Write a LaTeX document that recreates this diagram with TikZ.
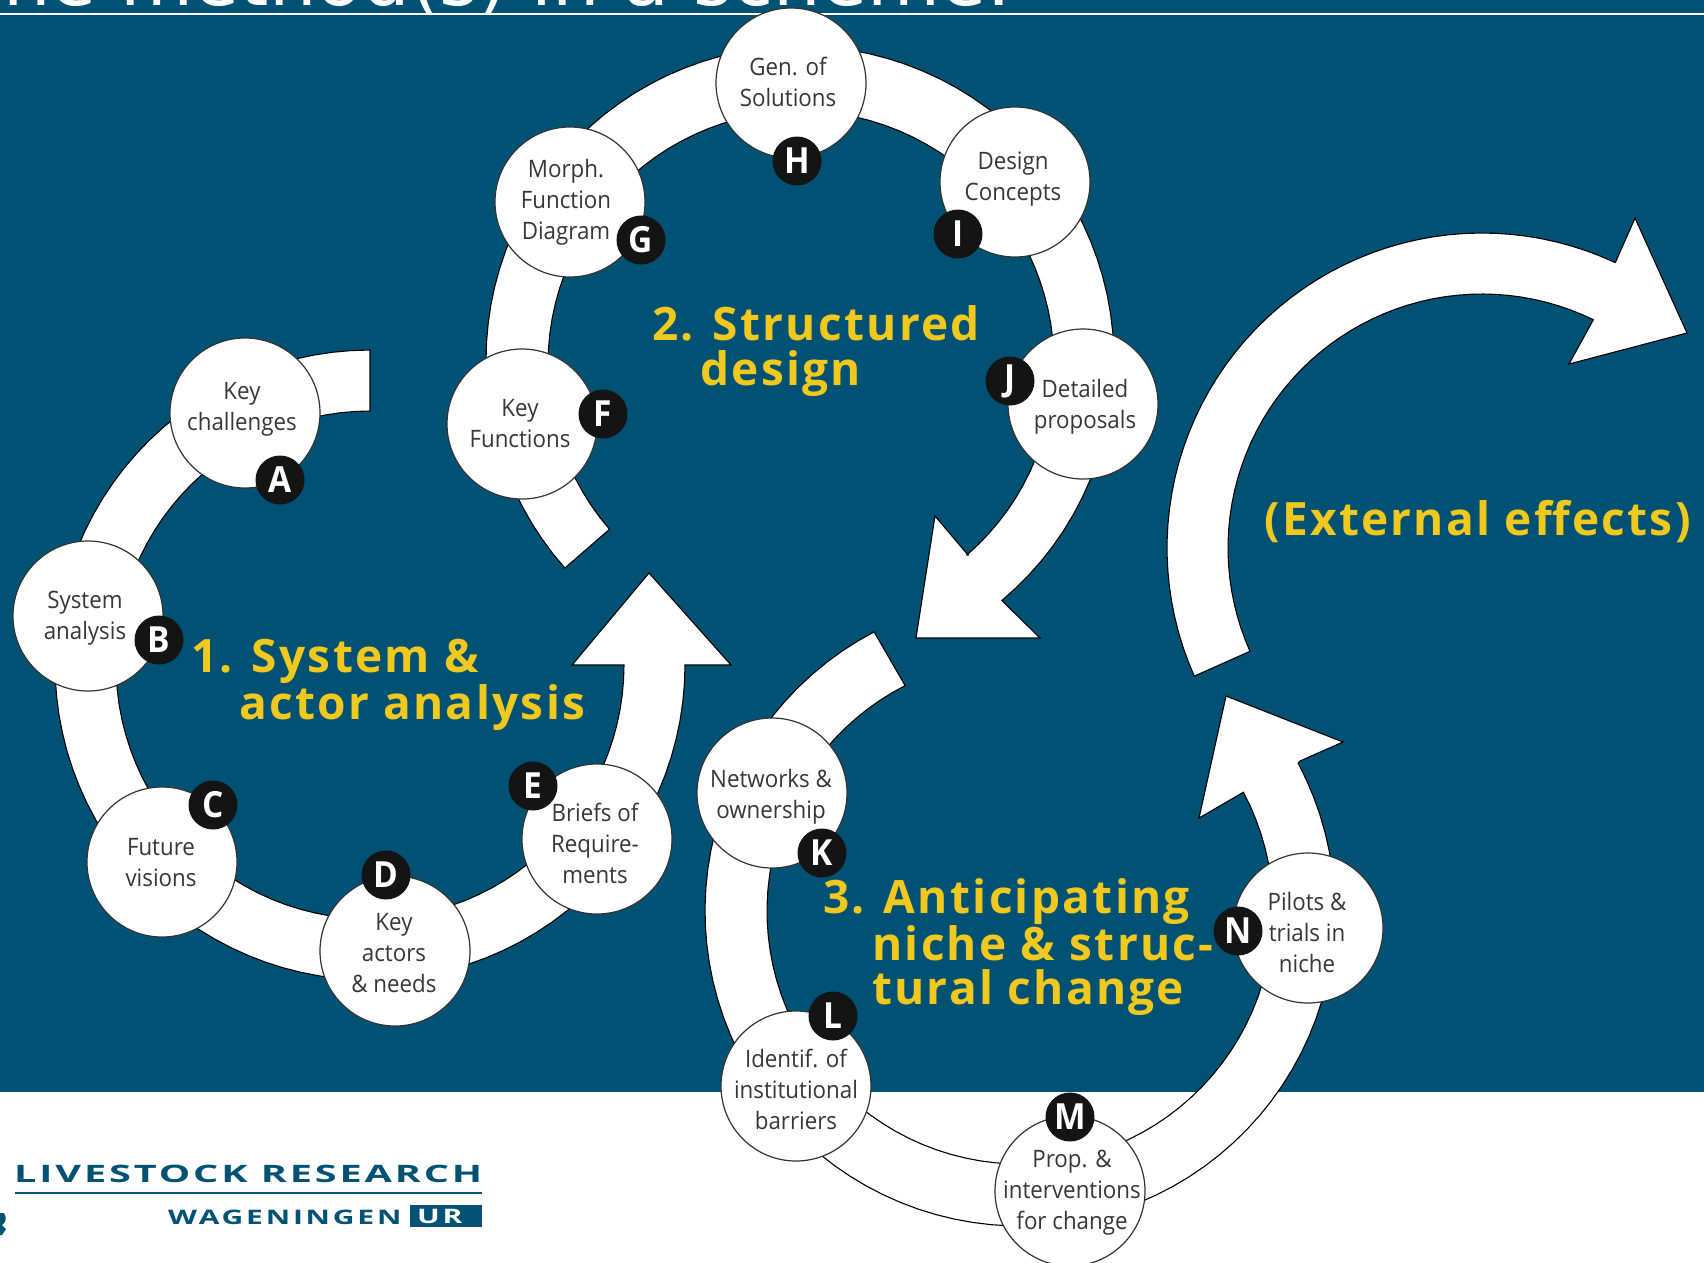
\documentclass[tikz,border=0pt]{standalone}
\usepackage{fontspec}
\setmainfont[FakeStretch=0.93]{Open Sans}
\newfontfamily\titlefont{DejaVu Sans}
\newfontfamily\logofont[FakeStretch=1.65,LetterSpace=12]{Open Sans}
\newfontfamily\logofontb[FakeStretch=1.5,LetterSpace=14]{Open Sans}
\newfontfamily\headfont[LetterSpace=5]{Open Sans}
\definecolor{wurblue}{RGB}{0,82,117}
\definecolor{headyellow}{RGB}{240,200,30}
\definecolor{steptext}{RGB}{55,55,55}
\tikzset{
  band/.style={draw=black,line width=1.1pt,fill=white,line join=miter},
  stepnode/.style={circle,draw=black!80,line width=1.2pt,fill=white,minimum size=150pt,inner sep=0pt},
  steplabel/.style={align=center,text=steptext,inner sep=0pt,font=\fontsize{24}{31}\selectfont},
  badge/.style={circle,fill=black!92,text=white,minimum size=49pt,inner sep=0pt,
    font=\fontsize{36}{36}\selectfont\bfseries},
  heading/.style={anchor=west,align=left,text=headyellow,inner sep=0pt,
    font=\headfont\bfseries\fontsize{46}{44.3}\selectfont},
}
\begin{document}
\begin{tikzpicture}[x=1pt,y=-1pt]
\useasboundingbox (0,0) rectangle (1704,1262);
\fill[white] (0,0) rectangle (1704,1262);
\fill[wurblue] (0,0) rectangle (1704,1092);
% title line
\node[anchor=base west,inner sep=0pt,text=white,font=\titlefont\fontsize{75}{75}\selectfont] (title) at (-43,5.5) {The method(s) in a scheme:};
\fill[white] (0,12.5) rectangle (1704,15);
% loop 1
\draw[band] plot[domain=-90:-360,samples=80] ({370+315*cos(\x)},{665+315*sin(\x)})
  -- (731,665) -- (649,573) -- (572,665) -- (622,665)
  -- plot[domain=-360:-90,samples=80] ({370+254*cos(\x)},{665+254*sin(\x)})
  -- cycle;
% loop 2
\draw[band] plot[domain=138.5:410,samples=80] ({800+314*cos(\x)},{360+314*sin(\x)})
  -- (1040,638) -- (916,638) -- (935,516) -- (968,555)
  -- plot[domain=409:139.2,samples=80] ({801+253*cos(\x)},{364+253*sin(\x)})
  -- cycle;
% loop 3
\draw[band] plot[domain=243:-28,samples=80] ({1020+253*cos(\x)},{911+253*sin(\x)})
  -- (1199,818) -- (1226,696) -- (1343,742) -- (1300,761)
  -- plot[domain=-28:242.4,samples=80] ({1020+315*cos(\x)},{911+315*sin(\x)})
  -- cycle;
% external effects
\draw[band] plot[domain=156:296,samples=50] ({1482+254*cos(\x)},{548+254*sin(\x)})
  -- (1569,364) -- (1687,333) -- (1635,218) -- (1616,261)
  -- plot[domain=295:156,samples=50] ({1482+315*cos(\x)},{548+315*sin(\x)})
  -- cycle;
% steps
\node[stepnode,label={[steplabel,xshift=-3pt,yshift=4pt]center:Key\\challenges}] (keychal) at (245,413) {};
\node[stepnode,label={[steplabel,xshift=-3pt,yshift=-2pt]center:System\\analysis}] (sysana) at (88,616) {};
\node[stepnode,label={[steplabel,xshift=-1pt,yshift=-1pt]center:Future\\visions}] (future) at (162,862) {};
\node[stepnode,label={[steplabel,xshift=-1pt,yshift=-2pt]center:Key\\actors\\\& needs}] (actors) at (395,951) {};
\node[stepnode,label={[steplabel,xshift=-2pt,yshift=-4pt]center:Briefs of\\Require-\\ments}] (briefs) at (597,839) {};
\node[stepnode,label={[steplabel,xshift=-2pt]center:Key\\Functions}] (keyfunc) at (522,424) {};
\node[stepnode,label={[steplabel,xshift=-4pt]center:Morph.\\Function\\Diagram}] (morph) at (570,202) {};
\node[stepnode,label={[steplabel,xshift=-3pt,yshift=1pt]center:Gen. of\\Solutions}] (gensol) at (791,83) {};
\node[stepnode,label={[steplabel,xshift=-2pt,yshift=3pt]center:Design\\Concepts}] (concepts) at (1015,182) {};
\node[stepnode,label={[steplabel,xshift=2pt,yshift=-3pt]center:Detailed\\proposals}] (detail) at (1083,404) {};
\node[stepnode,label={[steplabel,xshift=-1pt,yshift=-4pt]center:Networks \&\\ownership}] (network) at (772,793) {};
\node[stepnode,label={[steplabel,yshift=-3pt]center:Identif. of\\institutional\\barriers}] (barrier) at (796,1086) {};
\node[stepnode,label={[steplabel,xshift=2pt,yshift=-2pt]center:Prop. \&\\interventions\\for change}] (interv) at (1070,1191) {};
\node[stepnode,label={[steplabel,xshift=-1pt,yshift=-4pt]center:Pilots \&\\trials in\\niche}] (pilots) at (1308,928) {};
% badges
\node[badge] (a) at (280,480) {A};
\node[badge] (b) at (159,640) {B};
\node[badge] (c) at (213,805) {C};
\node[badge] (d) at (386,875) {D};
\node[badge] (e) at (533,786) {E};
\node[badge] (f) at (603,414) {F};
\node[badge] (g) at (641,240) {G};
\node[badge] (h) at (797,161) {H};
\node[badge] (i) at (958,234) {I};
\node[badge] (j) at (1010,381) {J};
\node[badge] (k) at (822,853) {K};
\node[badge] (l) at (833,1016) {L};
\node[badge] (m) at (1070,1117) {M};
\node[badge] (n) at (1238,931) {N};
% headings
\node[heading] (headone) at (191,685) {1. System \&\\\hspace*{48pt}actor analysis};
\node[heading] (headtwo) at (652,351) {2. Structured\\\hspace*{48pt}design};
\node[heading] (headthree) at (823,947) {3. Anticipating\\\hspace*{49pt}niche \& struc-\\\hspace*{49pt}tural change};
\node[heading] (external) at (1264,522) {(External effects)};
% logo
\node[anchor=base west,inner sep=0pt,text=wurblue,font=\logofont\bfseries\fontsize{24}{24}\selectfont] (livestock) at (14,1182) {LIVESTOCK RESEARCH};
\draw[wurblue,line width=2pt] (15,1193) -- (482,1193);
\node[anchor=base west,inner sep=0pt,text=wurblue,font=\logofontb\bfseries\fontsize{20}{20}\selectfont] (wagen) at (168,1224) {WAGENINGEN};
\node[anchor=north west,fill=wurblue,minimum height=22pt,inner ysep=0pt,inner xsep=7pt,text width=58pt,align=left,text=white,font=\logofontb\bfseries\fontsize{20}{20}\selectfont] (ur) at (410,1205) {UR};
\fill[wurblue] (0,1213) -- (4,1213) .. controls (7,1218) and (6,1222) .. (2,1225) -- (6,1229) -- (2,1235) -- (0,1235) -- cycle;
\end{tikzpicture}
\end{document}
